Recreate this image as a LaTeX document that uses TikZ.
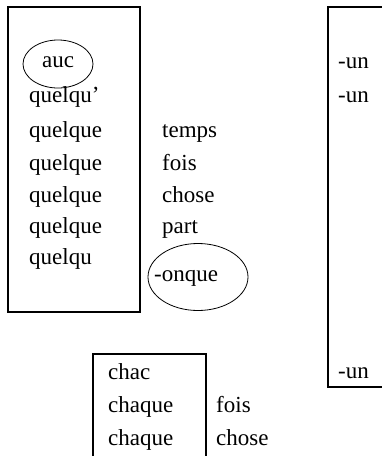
\documentclass[tikz,border=0pt]{standalone}
\usepackage{fontspec}
\setmainfont{Liberation Serif}
\begin{document}
\begin{tikzpicture}[x=1pt,y=-1pt,
  word/.style={inner sep=0pt,anchor=base west,font=\fontsize{23}{28}\selectfont},
  frame/.style={draw,line width=1.8pt},
  ring/.style={draw,line width=0.8pt}]
\useasboundingbox (0,0) rectangle (382,456);
\clip (0,0) rectangle (382,456);
% boxes
\draw[frame] (8,7) rectangle (140,312);
\draw[frame] (328,7) rectangle (400,387);
\draw[frame] (93,354) rectangle (206,470);
% left box words
\node[word] (auc) at (42,67) {auc};
\node[word] (q1) at (29,102) {quelqu’};
\node[word] (q2) at (29,137) {quelque};
\node[word] (q3) at (29,170) {quelque};
\node[word] (q4) at (29,202) {quelque};
\node[word] (q5) at (29,233) {quelque};
\node[word] (q6) at (29,264) {quelqu};
% right words
\node[word] (temps) at (162,137) {temps};
\node[word] (fois) at (162,170) {fois};
\node[word] (chose) at (162,202) {chose};
\node[word] (part) at (162,233) {part};
\node[word] (onque) at (154,281) {-onque};
% ellipses
\draw[ring] (58,64) ellipse [x radius=35, y radius=24];
\draw[ring] (198,277) ellipse [x radius=50, y radius=33.5];
% right box
\node[word] (un1) at (338,68) {-un};
\node[word] (un2) at (338,102) {-un};
\node[word] (un3) at (338,378) {-un};
% bottom box
\node[word] (chac) at (108,379) {chac};
\node[word] (chaque1) at (108,412) {chaque};
\node[word] (chaque2) at (108,445) {chaque};
\node[word] (fois2) at (216,412) {fois};
\node[word] (chose2) at (216,445) {chose};
\end{tikzpicture}
\end{document}
